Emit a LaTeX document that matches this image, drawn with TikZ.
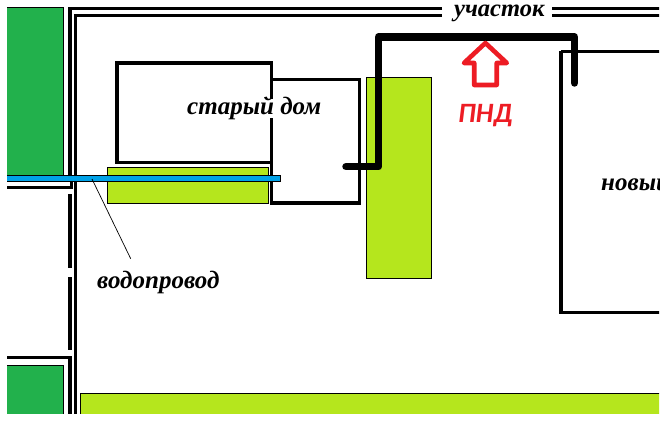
\documentclass[tikz,border=0pt]{standalone}
\usepackage{fontspec}
\setmainfont{Liberation Serif}
\newfontfamily\pndfont{Carlito}
\definecolor{darkgreen}{HTML}{22B14C}
\definecolor{lime}{HTML}{B5E61D}
\definecolor{pipeblue}{HTML}{00A2E8}
\definecolor{pndred}{HTML}{ED1C24}
\tikzset{
  wall/.style={draw=black,line width=3.5pt,line cap=butt,miter limit=10},
  green plot/.style={fill=darkgreen,draw=black,line width=1pt},
  lime plot/.style={fill=lime,draw=black,line width=1.2pt},
  pnd pipe/.style={draw=black,line width=7.5pt,line cap=round,line join=round},
  hand/.style={font=\bfseries\itshape\fontsize{25}{25}\selectfont,inner sep=0pt,anchor=base west,text=black},
}
\begin{document}
\begin{tikzpicture}[x=1pt,y=-1pt]
\useasboundingbox (0,0) rectangle (664,425);
\fill[white] (0,0) rectangle (664,425);
\begin{scope}
\clip (7,0) rectangle (659,413);
% green plots
\draw[green plot] (0,7.5) rectangle (63.5,178);
\draw[green plot] (0,365.5) rectangle (63.5,430);
\draw[lime plot] (80.5,393.7) rectangle (680,430);
% boundary
\draw[wall] (442,8.6) -- (69.9,8.6) -- (69.9,178);
\draw[wall] (0,187.4) -- (71.6,187.4) -- (71.6,181);
\draw[wall] (69.9,194) -- (69.9,267.5);
\draw[wall] (69.9,277) -- (69.9,350);
\draw[wall] (0,357.7) -- (69.9,357.7) -- (69.9,420);
\draw[wall] (442,15.5) -- (75.7,15.5) -- (75.7,420);
\draw[wall] (552,8.6) -- (670,8.6);
\draw[wall] (552,15.5) -- (670,15.5);
% lime beds
\draw[lime plot] (107.5,167.5) rectangle (268.5,203.3);
\draw[lime plot] (366.5,77.5) rectangle (431.7,278.7);
% houses
\draw[wall] (116.8,62.9) rectangle (271.7,162.3);
\draw[wall] (271.7,79.7) -- (359.5,79.7) -- (359.5,203) -- (271.7,203) -- cycle;
\draw[wall] (561,51.3) -- (561,312.3) -- (680,312.3);
\draw[wall] (561,51.3) -- (680,51.3);
% water pipe
\draw[fill=pipeblue,draw=black,line width=0.7pt] (0,175.2) rectangle (280.5,181.5);
\coordinate (pipetap) at (92,179);
% PND pipe
\coordinate (pa) at (346,166.7);
\coordinate (pb) at (378.4,166.7);
\coordinate (pc) at (378.4,37);
\coordinate (pd) at (574.6,37);
\coordinate (pe) at (574.6,83);
\draw[pnd pipe] (pa) -- (pb) -- (pc) -- (pd) -- (pe);
% arrow
\draw[draw=pndred,line width=4.6pt,line join=round]
  (485.4,43) -- (506.8,63) -- (496.7,63) -- (496.7,85) -- (474.2,85) -- (474.2,63) -- (464,63) -- cycle;
% labels
\node[hand,fill=white,text height=16pt,text depth=3pt] (old) at (187,115) {старый дом};
\node[hand] (newh) at (601,190.7) {новый};
\node[hand] (water) at (97,288) {водопровод};
\node[inner sep=0pt,anchor=base west,text=pndred,font=\pndfont\bfseries\itshape\fontsize{28}{28}\selectfont] (pnd) at (458,122.5) {ПНД};
\coordinate (leader) at (130.7,258.7);
\draw[black,line width=0.7pt] (pipetap) -- (leader);
\end{scope}
\node[hand,font=\bfseries\itshape\fontsize{24.5}{25}\selectfont] (plot) at (454,17) {участок};
\end{tikzpicture}
\end{document}
